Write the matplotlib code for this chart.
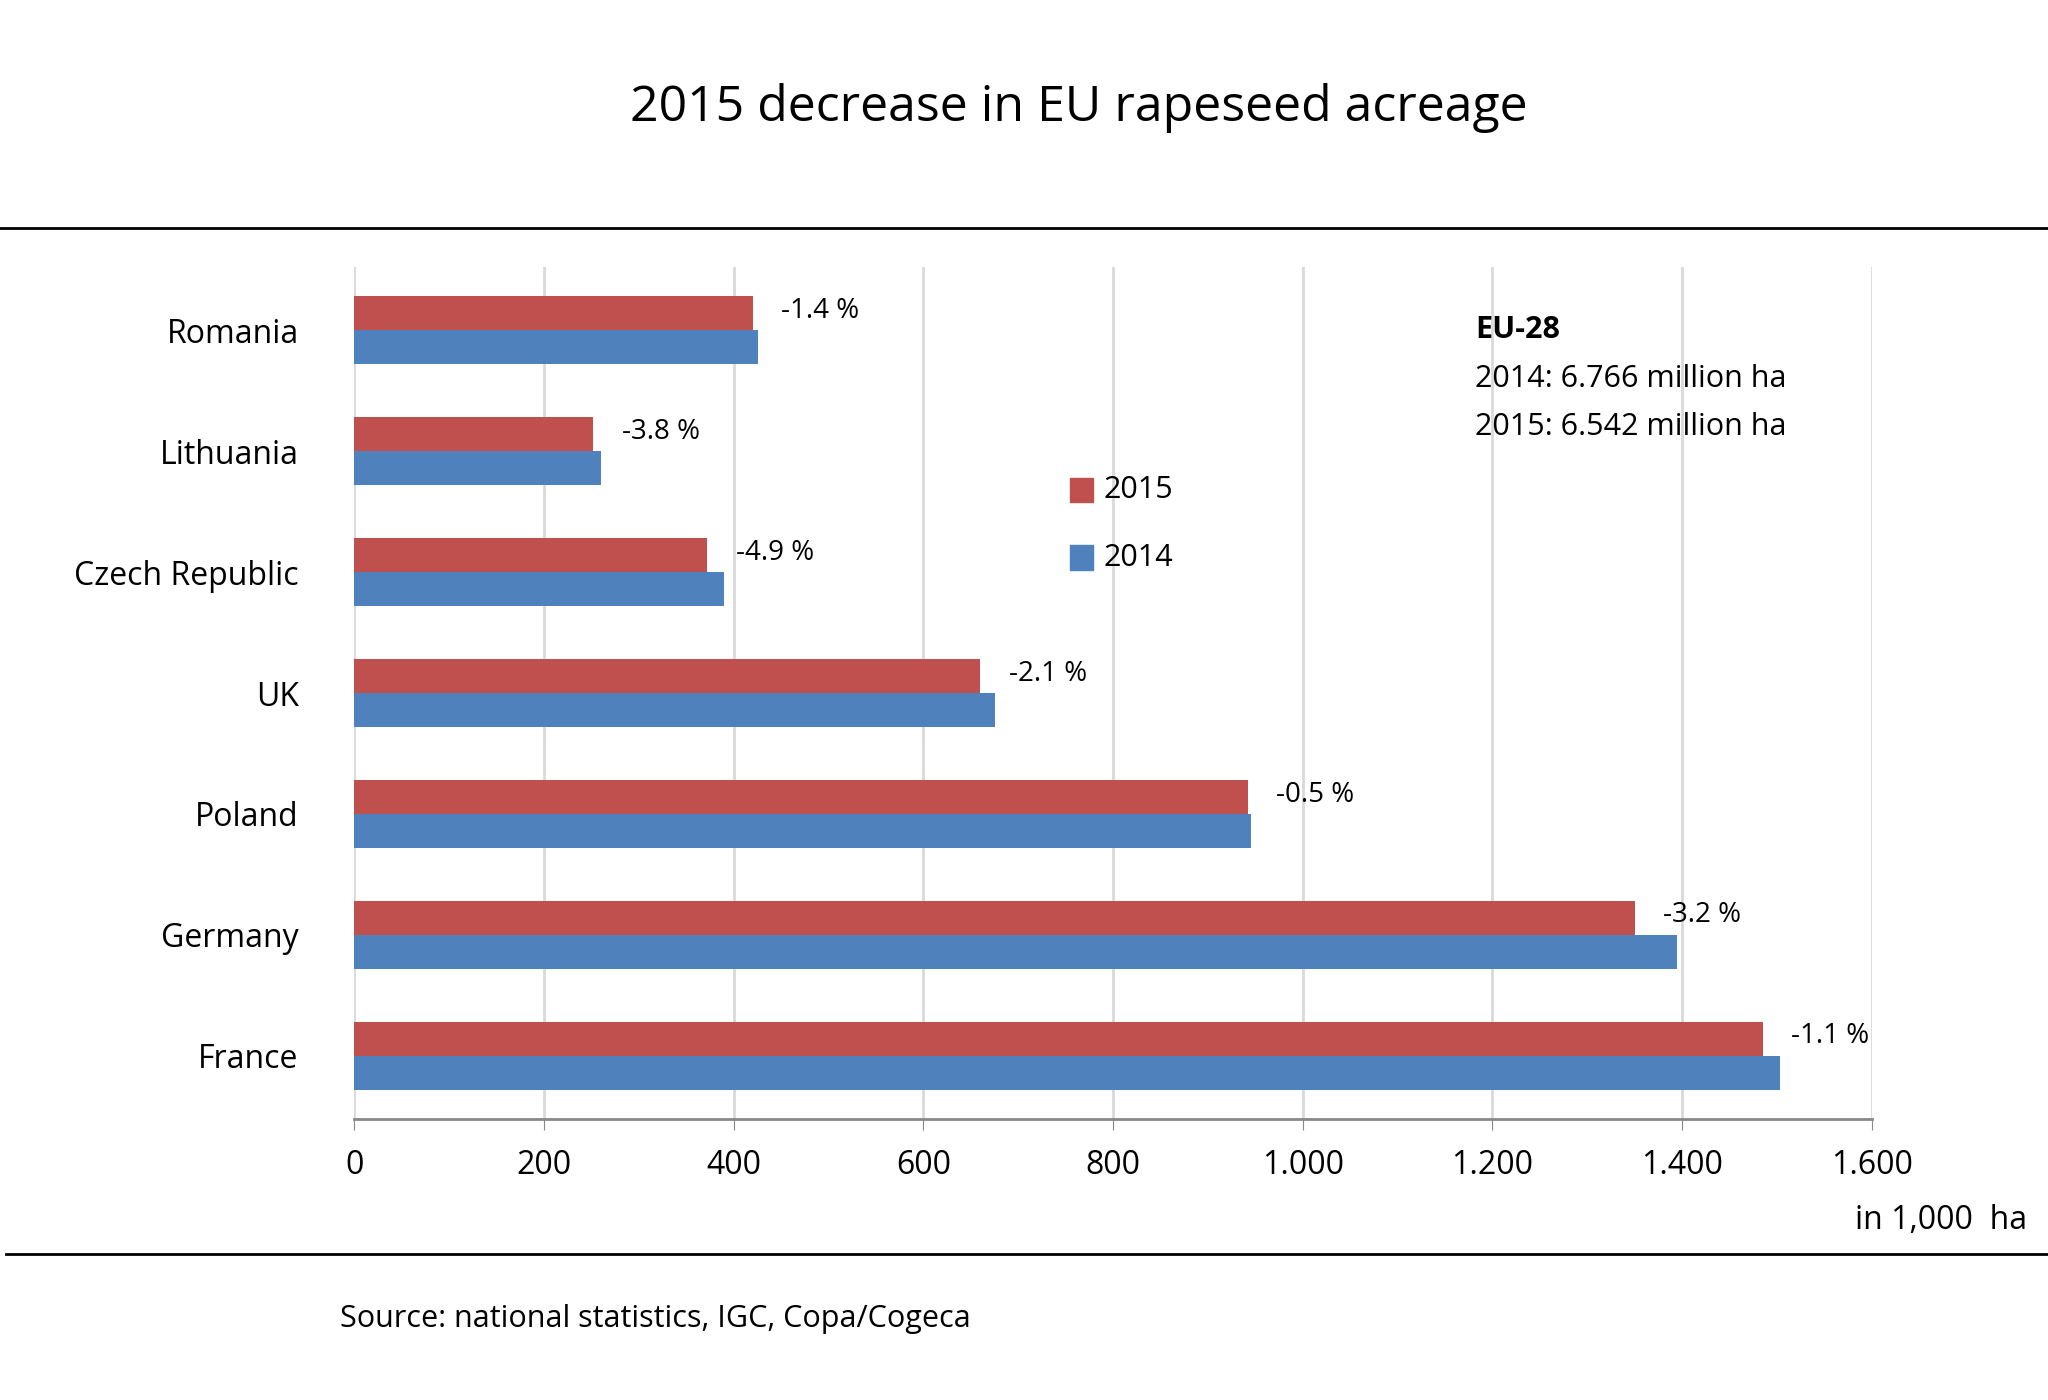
import matplotlib
matplotlib.use("Agg")
import matplotlib.pyplot as plt
from matplotlib.patches import Rectangle
from matplotlib.ticker import FuncFormatter

plt.rcParams['font.family'] = ['Open Sans', 'DejaVu Sans']

countries = ["France", "Germany", "Poland", "UK", "Czech Republic", "Lithuania", "Romania"]
v2014 = [1503, 1395, 945, 675, 390, 260, 426]
v2015 = [1485, 1350, 942, 660, 372, 252, 420]
changes = ["-1.1 %", "-3.2 %", "-0.5 %", "-2.1 %", "-4.9 %", "-3.8 %", "-1.4 %"]
xticks = [0, 200, 400, 600, 800, 1000, 1200, 1400, 1600]

red = "#C0504D"
blue = "#4F81BD"

fig = plt.figure(figsize=(20.48, 14.0), dpi=100)
ax = fig.add_axes([0.173, 0.201, 0.741, 0.608])
h = 0.28
y = list(range(len(countries)))
ax.barh([i + h/2 for i in y], v2015, height=h, color=red, zorder=3)
ax.barh([i - h/2 for i in y], v2014, height=h, color=blue, zorder=3)
for i in y:
    ax.text(v2015[i] + 30, i + h/2 + 0.02, changes[i], fontsize=20, va='center', ha='left', zorder=4)

ax.set_xlim(0, 1600)
ax.set_ylim(-0.52, 6.52)
ax.set_xticks(xticks)
ax.xaxis.set_major_formatter(FuncFormatter(lambda v, p: f"{int(v):,}".replace(",", ".")))
ax.set_yticks(y)
ax.set_yticklabels(countries)
ax.tick_params(axis='y', length=0, labelsize=23, pad=40)
ax.tick_params(axis='x', length=8, color='#888888', labelsize=23, pad=14, direction='out')
ax.grid(axis='x', color='#D9D9D9', linewidth=2, zorder=0)
for s in ['top', 'right', 'left']:
    ax.spines[s].set_visible(False)
ax.spines['bottom'].set_color('#888888')
ax.spines['bottom'].set_linewidth(2)

# white boxes behind legend & annotation (hide gridlines)
ax.add_patch(Rectangle((740, 3.85), 200, 1.3, color='white', zorder=1))
ax.add_patch(Rectangle((1170, 5.0), 410, 1.45, color='white', zorder=1))

ax.text(1182, 6.0, "EU-28", fontsize=22, fontweight='bold', va='center', zorder=4)
ax.text(1182, 5.6, "2014: 6.766 million ha", fontsize=22, va='center', zorder=4)
ax.text(1182, 5.2, "2015: 6.542 million ha", fontsize=22, va='center', zorder=4)

ax.add_patch(Rectangle((755, 4.58), 24, 0.2, color=red, zorder=4))
ax.text(790, 4.68, "2015", fontsize=22, va='center', zorder=4)
ax.add_patch(Rectangle((755, 4.02), 24, 0.2, color=blue, zorder=4))
ax.text(790, 4.12, "2014", fontsize=22, va='center', zorder=4)

fig.text(0.527, 0.923, "2015 decrease in EU rapeseed acreage", fontsize=36, ha='center', va='center')
fig.text(0.99, 0.128, "in 1,000  ha", fontsize=23, ha='right', va='center')
fig.text(0.166, 0.058, "Source: national statistics, IGC, Copa/Cogeca", fontsize=22, ha='left', va='center')
fig.add_artist(plt.Line2D([0.0, 1.0], [0.837, 0.837], color='black', linewidth=2))
fig.add_artist(plt.Line2D([0.003, 1.0], [0.104, 0.104], color='black', linewidth=2))

fig.savefig("out.png", dpi=100, facecolor='white')
